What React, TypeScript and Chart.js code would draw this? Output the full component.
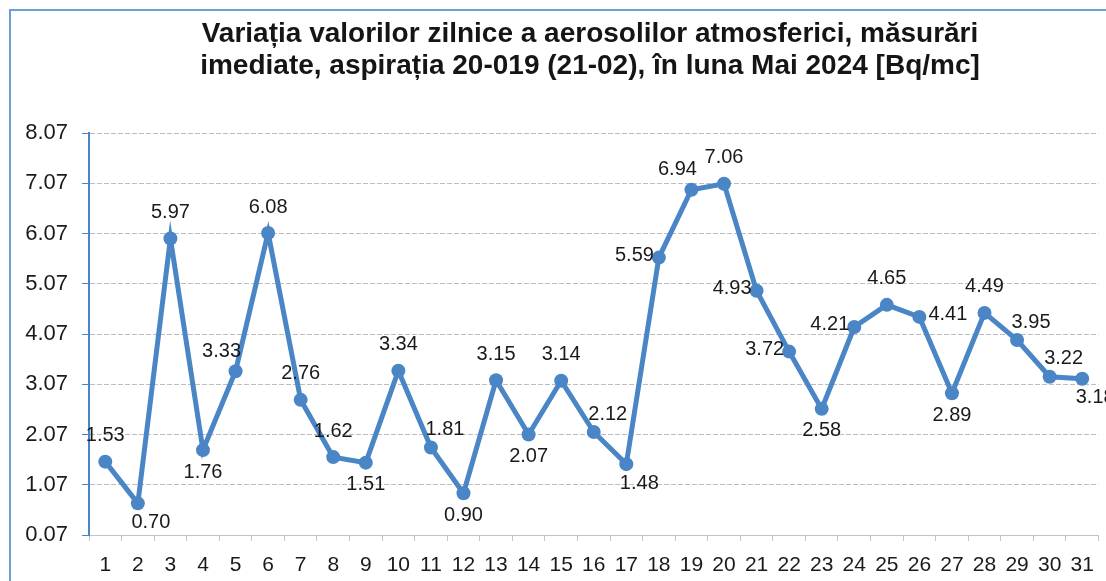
import React, { useEffect, useRef } from "react";
import { Chart, registerables } from "chart.js";

Chart.register(...registerables);

const titleLines = [
  "Variația valorilor zilnice a aerosolilor atmosferici, măsurări",
  "imediate, aspirația 20-019 (21-02), în luna Mai 2024 [Bq/mc]",
];

const days = [
  "1", "2", "3", "4", "5", "6", "7", "8", "9", "10", "11", "12", "13", "14", "15", "16",
  "17", "18", "19", "20", "21", "22", "23", "24", "25", "26", "27", "28", "29", "30", "31",
];

const values = [
  1.53, 0.7, 5.97, 1.76, 3.33, 6.08, 2.76, 1.62, 1.51, 3.34, 1.81, 0.9, 3.15, 2.07, 3.14, 2.12,
  1.48, 5.59, 6.94, 7.06, 4.93, 3.72, 2.58, 4.21, 4.65, 4.41, 2.89, 4.49, 3.95, 3.22, 3.18,
];

const yTicks = [0.07, 1.07, 2.07, 3.07, 4.07, 5.07, 6.07, 7.07, 8.07];

// label placement per point
const labelPlaces = [
  "top", "bottomRight", "top", "bottom", "topLeft", "top", "top", "top", "bottom", "top",
  "topRight", "bottom", "top", "bottom", "top", "topRight", "bottomRight", "left", "topLeft",
  "top", "left", "left", "bottom", "left", "top", "right", "bottom", "top", "topRight",
  "topRight", "bottomRight",
];

const FONT = '"Liberation Sans", Arial, sans-serif';
const LINE_COLOR = "#4a86c5";

const frameAndTitle = {
  id: "frameAndTitle",
  beforeDraw(chart: any) {
    const ctx = chart.ctx;
    ctx.save();
    ctx.fillStyle = "#ffffff";
    ctx.fillRect(0, 0, chart.width, chart.height);
    ctx.strokeStyle = "#6a9fd8";
    ctx.lineWidth = 2;
    ctx.strokeRect(10, 10, chart.width + 50, chart.height + 50);
    ctx.fillStyle = "#151515";
    ctx.font = `bold 28px ${FONT}`;
    ctx.textAlign = "center";
    ctx.textBaseline = "alphabetic";
    ctx.fillText(titleLines[0], 590, 42);
    ctx.fillText(titleLines[1], 590, 74);
    ctx.restore();
  },
};

const pointLabels = {
  id: "pointLabels",
  afterDatasetsDraw(chart: any) {
    const ctx = chart.ctx;
    const meta = chart.getDatasetMeta(0);
    ctx.save();
    ctx.font = `20px ${FONT}`;
    ctx.fillStyle = "#1a1a1a";
    ctx.textBaseline = "middle";
    meta.data.forEach((pt: any, i: number) => {
      const text = values[i].toFixed(2);
      const place = labelPlaces[i];
      let x = pt.x;
      let y = pt.y;
      let align: CanvasTextAlign = "center";
      switch (place) {
        case "top":
          y -= 26;
          break;
        case "bottom":
          y += 22;
          break;
        case "left":
          x -= 5;
          y -= 2;
          align = "right";
          break;
        case "right":
          x += 9;
          y -= 2;
          align = "left";
          break;
        case "topRight":
          x += 14;
          y -= 18;
          break;
        case "topLeft":
          x -= 14;
          y -= 20;
          break;
        case "bottomRight":
          x += 13;
          y += 19;
          break;
      }
      ctx.textAlign = align;
      ctx.fillText(text, x, y);
    });
    ctx.restore();
  },
};

export default function App() {
  const ref = useRef<HTMLCanvasElement | null>(null);
  useEffect(() => {
    if (!ref.current) return;
    const chart = new Chart(ref.current, {
      type: "line",
      data: {
        labels: days,
        datasets: [
          {
            data: values,
            borderColor: LINE_COLOR,
            backgroundColor: LINE_COLOR,
            borderWidth: 5,
            pointRadius: 7,
            pointBackgroundColor: LINE_COLOR,
            pointBorderColor: LINE_COLOR,
            pointBorderWidth: 0,
            tension: 0,
          },
        ],
      },
      options: {
        animation: false,
        responsive: true,
        maintainAspectRatio: false,
        layout: { padding: { top: 133, left: 0, right: 7, bottom: 0 } },
        plugins: {
          legend: { display: false },
          title: { display: false },
          tooltip: { enabled: false },
        },
        scales: {
          x: {
            type: "category",
            offset: true,
            grid: {
              offset: true,
              drawOnChartArea: false,
              drawTicks: true,
              tickLength: 6,
              color: "#c4c4c4",
              tickColor: "#c4c4c4",
            },
            border: { display: true, color: "#c4c4c4", width: 1 },
            ticks: {
              color: "#1a1a1a",
              font: { family: FONT, size: 21 },
              padding: 12,
              maxRotation: 0,
              autoSkip: false,
            },
            afterFit(scale: any) {
              scale.height = 46;
            },
          },
          y: {
            type: "linear",
            min: 0.07,
            max: 8.07,
            afterBuildTicks(scale: any) {
              scale.ticks = yTicks.map((v) => ({ value: v }));
            },
            grid: {
              color: "#bdbdbd",
              lineWidth: 1,
              tickLength: 7,
              tickColor: LINE_COLOR,
              tickBorderDash: [],
            },
            border: { display: true, color: LINE_COLOR, width: 2, dash: [5, 2] },
            ticks: {
              color: "#1a1a1a",
              font: { family: FONT, size: 22 },
              padding: 14,
              callback: (v: any) => Number(v).toFixed(2),
            },
            afterFit(scale: any) {
              scale.width = 89;
            },
          },
        },
      },
      plugins: [frameAndTitle, pointLabels],
    });
    return () => chart.destroy();
  }, []);
  return (
    <div style={{ position: "absolute", left: 0, top: 0, width: 1106, height: 581 }}>
      <canvas ref={ref} />
    </div>
  );
}
